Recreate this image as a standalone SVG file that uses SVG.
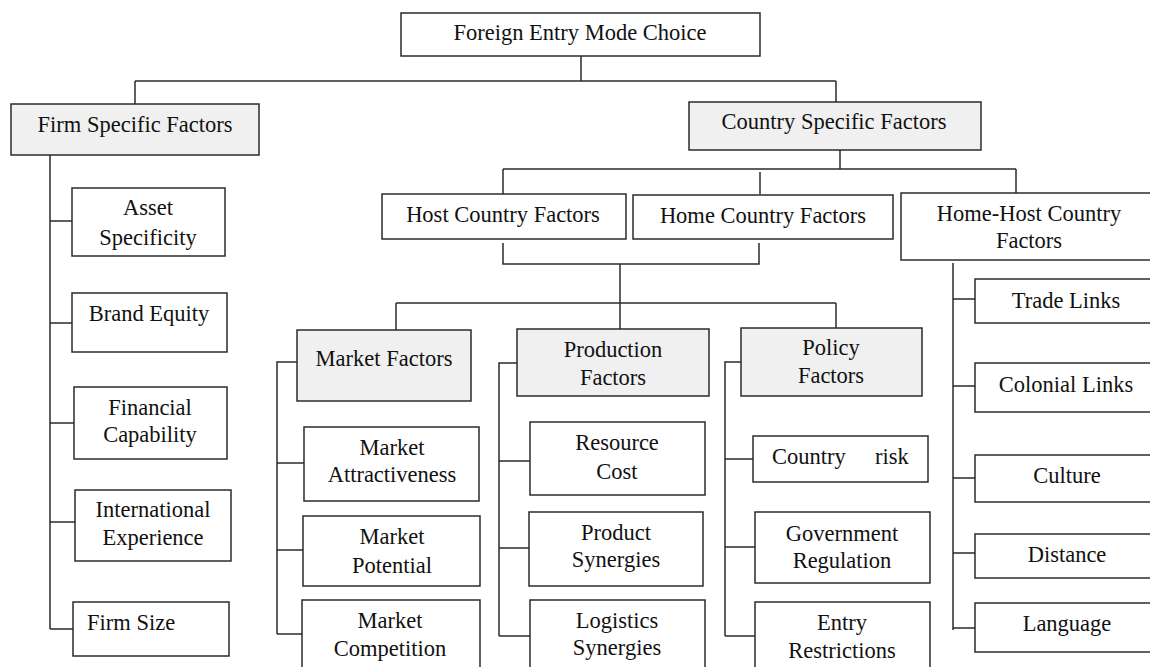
<svg xmlns="http://www.w3.org/2000/svg" width="1150" height="667" viewBox="0 0 1150 667">
  <style>
    .box { fill: #ffffff; stroke: #2b2b2b; stroke-width: 1.5; }
    .cat { fill: #f0f0f0; }
    .lbl { font-size: 22.5px; fill: #111111; text-anchor: middle; }
    .left { text-anchor: start; }
    .conn { fill: none; stroke: #2b2b2b; stroke-width: 1.5; }
  </style>
  <rect width="1150" height="667" fill="#ffffff"/>

  <!-- connectors -->
  <g id="connectors" class="conn">
    <path d="M581,56 V81 M135,81 H836 M135,81 V104 M836,81 V102"/>
    <path d="M840,150 V169 M503,169 H1016 M503,169 V194 M760,172 V194 M1016,169 V193"/>
    <path d="M503,243 V264 H759 V243 M620,264 V303"/>
    <path d="M396,303 H836 M396,303 V330 M620,303 V329 M836,303 V328"/>
    <path d="M50,155 V629 M50,221 H72 M50,323 H72 M50,423 H74 M50,522 H75 M50,629 H73"/>
    <path d="M297,362 H277 V634 M277,463 H304 M277,550 H303 M277,634 H302"/>
    <path d="M517,363 H499 V636 M499,461 H530 M499,548 H529 M499,636 H530"/>
    <path d="M741,362 H725 V636 M725,459 H753 M725,547 H755 M725,636 H755"/>
    <path d="M953,263 V630 M953,299 H975 M953,386 H975 M953,478 H975 M953,553 H975 M953,628 H975"/>
  </g>

  <g id="nodes" font-family="'Liberation Serif', 'DejaVu Serif', serif">
  <!-- root -->
  <g id="root">
    <rect class="box" x="401" y="13" width="359" height="43"/>
    <text class="lbl" x="580" y="40">Foreign Entry Mode Choice</text>
  </g>

  <!-- firm branch -->
  <g id="firm-specific">
    <rect class="box cat" x="11" y="104" width="248" height="51"/>
    <text class="lbl" x="135" y="132">Firm Specific Factors</text>
  </g>
  <g id="asset-specificity">
    <rect class="box" x="72" y="188" width="153" height="68"/>
    <text class="lbl" x="148" y="215">Asset</text>
    <text class="lbl" x="148" y="245">Specificity</text>
  </g>
  <g id="brand-equity">
    <rect class="box" x="72" y="293" width="155" height="59"/>
    <text class="lbl" x="149" y="321">Brand Equity</text>
  </g>
  <g id="financial-capability">
    <rect class="box" x="74" y="387" width="153" height="72"/>
    <text class="lbl" x="150" y="415">Financial</text>
    <text class="lbl" x="150" y="442">Capability</text>
  </g>
  <g id="international-experience">
    <rect class="box" x="75" y="490" width="156" height="71"/>
    <text class="lbl" x="153" y="517">International</text>
    <text class="lbl" x="153" y="545">Experience</text>
  </g>
  <g id="firm-size">
    <rect class="box" x="73" y="602" width="156" height="54"/>
    <text class="lbl left" x="87" y="630">Firm Size</text>
  </g>

  <!-- country branch -->
  <g id="country-specific">
    <rect class="box cat" x="689" y="102" width="292" height="48"/>
    <text class="lbl" x="834" y="129">Country Specific Factors</text>
  </g>
  <g id="host-country">
    <rect class="box" x="382" y="194" width="244" height="45"/>
    <text class="lbl" x="503" y="222">Host Country Factors</text>
  </g>
  <g id="home-country">
    <rect class="box" x="633" y="195" width="260" height="44"/>
    <text class="lbl" x="763" y="223">Home Country Factors</text>
  </g>
  <g id="home-host-country">
    <rect class="box" x="901" y="193" width="262" height="67"/>
    <text class="lbl" x="1029" y="221">Home-Host Country</text>
    <text class="lbl" x="1029" y="248">Factors</text>
  </g>

  <!-- market factors -->
  <g id="market-factors">
    <rect class="box cat" x="297" y="330" width="174" height="71"/>
    <text class="lbl" x="384" y="366">Market Factors</text>
  </g>
  <g id="market-attractiveness">
    <rect class="box" x="304" y="427" width="175" height="74"/>
    <text class="lbl" x="392" y="455">Market</text>
    <text class="lbl" x="392" y="482">Attractiveness</text>
  </g>
  <g id="market-potential">
    <rect class="box" x="303" y="516" width="177" height="70"/>
    <text class="lbl" x="392" y="544">Market</text>
    <text class="lbl" x="392" y="573">Potential</text>
  </g>
  <g id="market-competition">
    <rect class="box" x="302" y="600" width="178" height="80"/>
    <text class="lbl" x="390" y="628">Market</text>
    <text class="lbl" x="390" y="656">Competition</text>
  </g>

  <!-- production factors -->
  <g id="production-factors">
    <rect class="box cat" x="517" y="329" width="192" height="67"/>
    <text class="lbl" x="613" y="357">Production</text>
    <text class="lbl" x="613" y="385">Factors</text>
  </g>
  <g id="resource-cost">
    <rect class="box" x="530" y="422" width="175" height="73"/>
    <text class="lbl" x="617" y="450">Resource</text>
    <text class="lbl" x="617" y="479">Cost</text>
  </g>
  <g id="product-synergies">
    <rect class="box" x="529" y="512" width="174" height="74"/>
    <text class="lbl" x="616" y="540">Product</text>
    <text class="lbl" x="616" y="567">Synergies</text>
  </g>
  <g id="logistics-synergies">
    <rect class="box" x="530" y="600" width="175" height="80"/>
    <text class="lbl" x="617" y="628">Logistics</text>
    <text class="lbl" x="617" y="655">Synergies</text>
  </g>

  <!-- policy factors -->
  <g id="policy-factors">
    <rect class="box cat" x="741" y="328" width="181" height="68"/>
    <text class="lbl" x="831" y="355">Policy</text>
    <text class="lbl" x="831" y="383">Factors</text>
  </g>
  <g id="country-risk">
    <rect class="box" x="753" y="436" width="175" height="46"/>
    <text class="lbl left" y="464"><tspan x="772">Country</tspan><tspan x="875">risk</tspan></text>
  </g>
  <g id="government-regulation">
    <rect class="box" x="755" y="512" width="175" height="71"/>
    <text class="lbl" x="842" y="541">Government</text>
    <text class="lbl" x="842" y="568">Regulation</text>
  </g>
  <g id="entry-restrictions">
    <rect class="box" x="755" y="602" width="175" height="80"/>
    <text class="lbl" x="842" y="630">Entry</text>
    <text class="lbl" x="842" y="658">Restrictions</text>
  </g>

  <!-- home-host items -->
  <g id="trade-links">
    <rect class="box" x="975" y="279" width="200" height="44"/>
    <text class="lbl" x="1066" y="308">Trade Links</text>
  </g>
  <g id="colonial-links">
    <rect class="box" x="975" y="363" width="200" height="49"/>
    <text class="lbl" x="1066" y="392">Colonial Links</text>
  </g>
  <g id="culture">
    <rect class="box" x="975" y="455" width="200" height="47"/>
    <text class="lbl" x="1067" y="483">Culture</text>
  </g>
  <g id="distance">
    <rect class="box" x="975" y="534" width="200" height="44"/>
    <text class="lbl" x="1067" y="562">Distance</text>
  </g>
  <g id="language">
    <rect class="box" x="975" y="603" width="200" height="49"/>
    <text class="lbl" x="1067" y="631">Language</text>
  </g>
  </g>
</svg>
